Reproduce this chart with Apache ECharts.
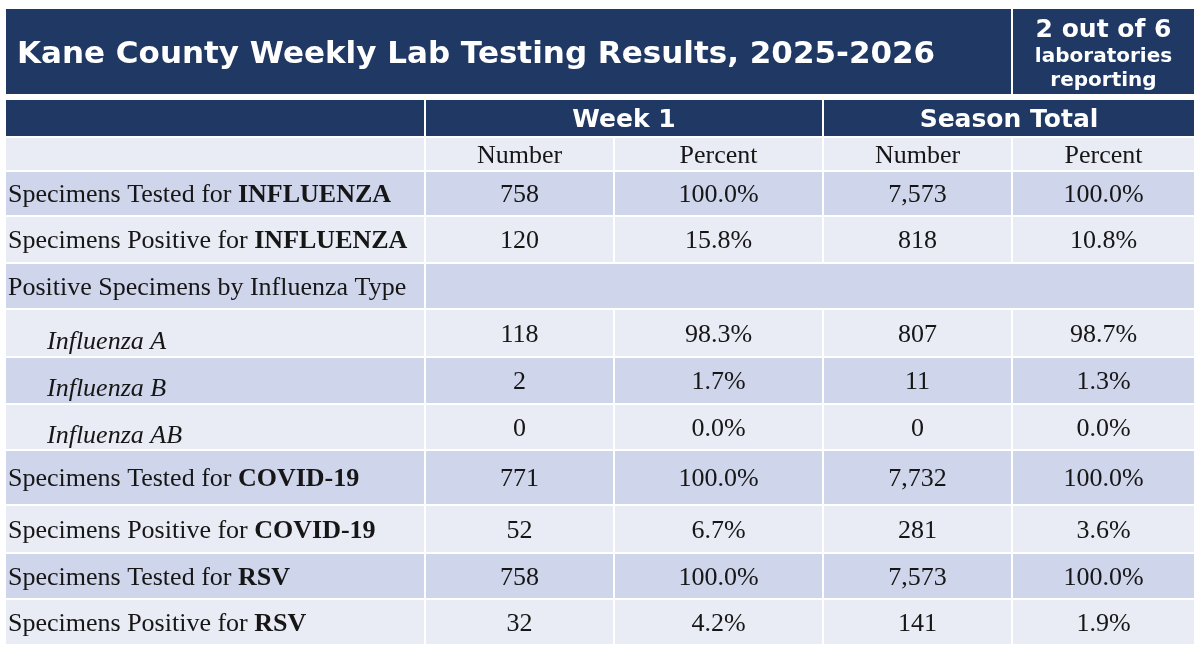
<!DOCTYPE html>
<html>
<head>
<meta charset="utf-8">
<title>Kane County Weekly Lab Testing Results</title>
<script src="https://cdn.jsdelivr.net/npm/echarts@6/dist/echarts.min.js"></script>
<style>
  html, body { margin: 0; padding: 0; background: #fff; }
  #chart { width: 1200px; height: 653px; }
</style>
</head>
<body>
<div id="chart"></div>
<script>
const title = 'Kane County Weekly Lab Testing Results, 2025-2026';
const labsReporting = 2;
const labsTotal = 6;
const periods = ['Week 1', 'Season Total'];
const measures = ['Number', 'Percent'];

const rowLabels = [
  'Specimens Tested for ', 'Specimens Positive for ', 'Positive Specimens by Influenza Type',
  'Influenza A', 'Influenza B', 'Influenza AB',
  'Specimens Tested for ', 'Specimens Positive for ',
  'Specimens Tested for ', 'Specimens Positive for '
];
const rowTargets = ['INFLUENZA', 'INFLUENZA', '', '', '', '', 'COVID-19', 'COVID-19', 'RSV', 'RSV'];
const rowSubtype = [false, false, false, true, true, true, false, false, false, false];

const weekNumber = [758, 120, null, 118, 2, 0, 771, 52, 758, 32];
const weekPercent = [100.0, 15.8, null, 98.3, 1.7, 0.0, 100.0, 6.7, 100.0, 4.2];
const seasonNumber = [7573, 818, null, 807, 11, 0, 7732, 281, 7573, 141];
const seasonPercent = [100.0, 10.8, null, 98.7, 1.3, 0.0, 100.0, 3.6, 100.0, 1.9];

// layout (px on the hidden axes)
const colEdges = [5, 425, 614, 823, 1012, 1195];
const rowEdges = [171, 216, 263, 309, 357, 404, 450, 505, 553, 599, 645];
const titleBand = [8, 95];
const periodBand = [99, 137];
const measureBand = [137, 171];

const navy = '#1f3864';
const darkRow = '#cfd5ea';
const lightRow = '#e9ebf5';
const ink = '#161616';
const serif = '"Liberation Serif", serif';
const sans = '"DejaVu Sans", Verdana, sans-serif';
const bodySize = 26;

const fmtNumber = v => v.toLocaleString('en-US');
const fmtPercent = v => v.toFixed(1) + '%';

const cells = [];
function addCell(x0, x1, y0, y1, fill, kind, text) {
  cells.push({ x0, x1, y0, y1, fill, kind, text });
}

addCell(colEdges[0], colEdges[4], titleBand[0], titleBand[1], navy, 'title', title);
addCell(colEdges[4], colEdges[5], titleBand[0], titleBand[1], navy, 'labs',
  `{a|${labsReporting} out of ${labsTotal}}\n{b|laboratories}\n{b|reporting}`);

addCell(colEdges[0], colEdges[1], periodBand[0], periodBand[1], navy, 'period', '');
addCell(colEdges[1], colEdges[3], periodBand[0], periodBand[1], navy, 'period', periods[0]);
addCell(colEdges[3], colEdges[5], periodBand[0], periodBand[1], navy, 'period', periods[1]);

addCell(colEdges[0], colEdges[1], measureBand[0], measureBand[1], lightRow, 'value', '');
for (let i = 0; i < 4; i++) {
  addCell(colEdges[i + 1], colEdges[i + 2], measureBand[0], measureBand[1], lightRow, 'value', measures[i % 2]);
}

rowLabels.forEach((label, r) => {
  const y0 = rowEdges[r], y1 = rowEdges[r + 1];
  const fill = r % 2 === 0 ? darkRow : lightRow;
  let text;
  if (rowSubtype[r]) text = `{i|${label}}`;
  else if (rowTargets[r]) text = `{n|${label}}{b|${rowTargets[r]}}`;
  else text = `{n|${label}}`;
  addCell(colEdges[0], colEdges[1], y0, y1, fill, rowSubtype[r] ? 'subtype' : 'label', text);

  if (weekNumber[r] === null) {
    addCell(colEdges[1], colEdges[5], y0, y1, fill, 'value', '');
    return;
  }
  const vals = [fmtNumber(weekNumber[r]), fmtPercent(weekPercent[r]),
    fmtNumber(seasonNumber[r]), fmtPercent(seasonPercent[r])];
  vals.forEach((v, i) => addCell(colEdges[i + 1], colEdges[i + 2], y0, y1, fill, 'value', v));
});

const bodyRich = {
  n: { fontFamily: serif, fontSize: bodySize, fill: ink },
  b: { fontFamily: serif, fontSize: bodySize, fontWeight: 'bold', fill: ink },
  i: { fontFamily: serif, fontSize: bodySize, fontStyle: 'italic', fill: ink }
};

function textFor(c, p0, p1) {
  const cx = (p0[0] + p1[0]) / 2, cy = (p0[1] + p1[1]) / 2;
  switch (c.kind) {
    case 'title':
      return { x: p0[0] + 12, y: cy + 3, style: { text: c.text, fill: '#fff', fontFamily: sans, fontWeight: 'bold', fontSize: 31, align: 'left', verticalAlign: 'middle' } };
    case 'labs':
      return { x: cx, y: cy + 3, style: { text: c.text, align: 'center', verticalAlign: 'middle',
        rich: {
          a: { fontFamily: sans, fontWeight: 'bold', fontSize: 25, lineHeight: 28, fill: '#fff', align: 'center' },
          b: { fontFamily: sans, fontWeight: 'bold', fontSize: 20, lineHeight: 24, fill: '#fff', align: 'center' }
        } } };
    case 'period':
      return { x: cx, y: cy + 2, style: { text: c.text, fill: '#fff', fontFamily: sans, fontWeight: 'bold', fontSize: 25, align: 'center', verticalAlign: 'middle' } };
    case 'label':
      return { x: p0[0] + 3, y: cy + 2, style: { text: c.text, rich: bodyRich, align: 'left', verticalAlign: 'middle' } };
    case 'subtype':
      return { x: p0[0] + 42, y: cy + 9, style: { text: c.text, rich: bodyRich, align: 'left', verticalAlign: 'middle' } };
    default:
      return { x: cx, y: cy + 2, style: { text: c.text, fill: ink, fontFamily: serif, fontSize: bodySize, align: 'center', verticalAlign: 'middle' } };
  }
}

const chart = echarts.init(document.getElementById('chart'), null, { renderer: 'canvas' });
chart.setOption({
  backgroundColor: '#fff',
  animation: false,
  grid: { left: 0, right: 0, top: 0, bottom: 0 },
  xAxis: { type: 'value', min: 0, max: 1200, show: false },
  yAxis: { type: 'value', min: 0, max: 653, inverse: true, show: false },
  series: [{
    type: 'custom',
    clip: false,
    silent: true,
    data: cells.map(c => [c.x0, c.x1, c.y0, c.y1]),
    renderItem(params, api) {
      const c = cells[params.dataIndex];
      const p0 = api.coord([api.value(0), api.value(2)]);
      const p1 = api.coord([api.value(1), api.value(3)]);
      const children = [{
        type: 'rect',
        shape: { x: p0[0] + 1, y: p0[1] + 1, width: p1[0] - p0[0] - 2, height: p1[1] - p0[1] - 2 },
        style: { fill: c.fill }
      }];
      if (c.text) children.push(Object.assign({ type: 'text' }, textFor(c, p0, p1)));
      return { type: 'group', children };
    }
  }]
});
</script>
</body>
</html>
